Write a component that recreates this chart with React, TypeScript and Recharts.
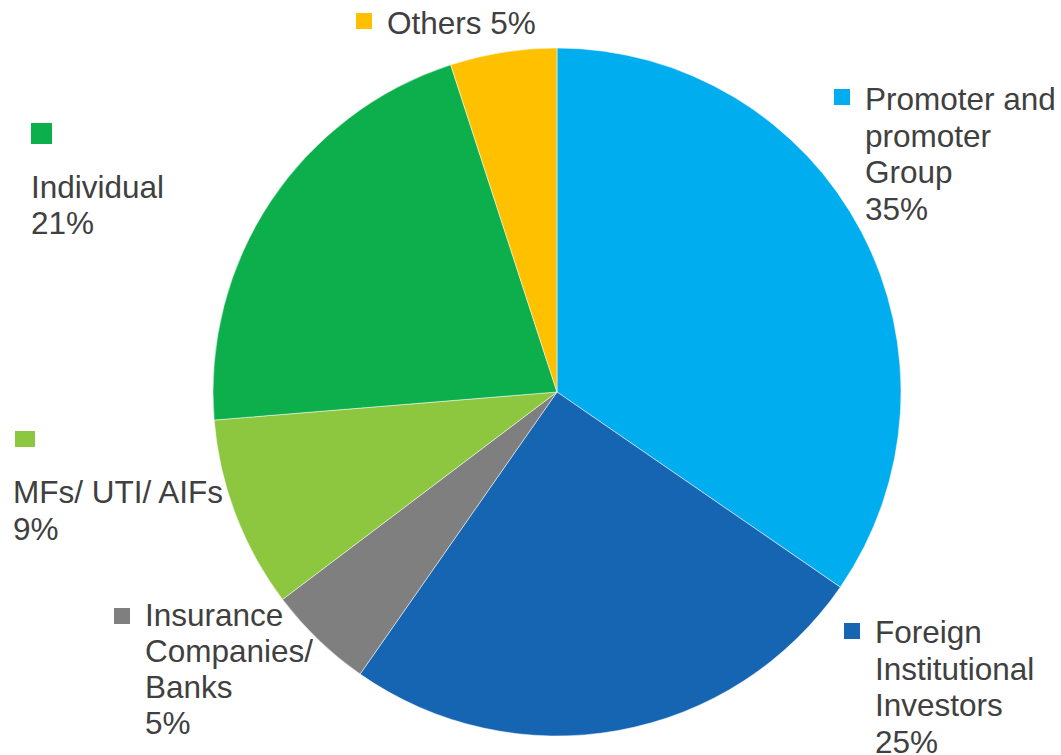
import React from "react";
import { PieChart, Pie, Cell } from "recharts";

const categories = [
  "Promoter and promoter Group",
  "Foreign Institutional Investors",
  "Insurance Companies/ Banks",
  "MFs/ UTI/ AIFs",
  "Individual",
  "Others",
];

// shareholding %, read from the slice edges
const shares = [34.6, 25.1, 5.0, 9.0, 21.3, 5.0];

// label name lines as they wrap in the original
const nameLines = [
  ["Promoter and", "promoter", "Group"],
  ["Foreign", "Institutional", "Investors"],
  ["Insurance", "Companies/", "Banks"],
  ["MFs/ UTI/ AIFs"],
  ["Individual"],
  ["Others"],
];

const colors = ["#00AEEF", "#1565B3", "#7F7F7F", "#8DC63F", "#0DAF4C", "#FFC000"];

const data = categories.map((name, i) => ({ name, value: shares[i] }));

// label layout: key square (x, y, w, h), text x, first baseline, line gap, pct inline
const labelLayout = [
  { kx: 834, ky: 89, kw: 16, kh: 16, tx: 865, ty: 110, gap: 36.5, inline: false },
  { kx: 844, ky: 623, kw: 16, kh: 16, tx: 875, ty: 643, gap: 36.5, inline: false },
  { kx: 114, ky: 608, kw: 16, kh: 16, tx: 145, ty: 626, gap: 36, inline: false },
  { kx: 15, ky: 431, kw: 20, kh: 16, tx: 13, ty: 503, gap: 37, inline: false },
  { kx: 31, ky: 123, kw: 21, kh: 21, tx: 31, ty: 198, gap: 36, inline: false },
  { kx: 356, ky: 13, kw: 16, kh: 16, tx: 387, ty: 34, gap: 36, inline: true },
];

const renderLabel = (props: any) => {
  const i = props.index;
  const l = labelLayout[i];
  const pct = `${Math.round(shares[i])}%`;
  const lines = l.inline
    ? [`${nameLines[i].join(" ")} ${pct}`]
    : [...nameLines[i], pct];
  return (
    <g key={`lbl-${i}`}>
      <rect x={l.kx} y={l.ky} width={l.kw} height={l.kh} fill={colors[i]} />
      <text
        x={l.tx}
        y={l.ty}
        fill="#404040"
        fontSize={31.5}
        fontFamily="'Liberation Sans', Arial, sans-serif"
        textAnchor="start"
      >
        {lines.map((line, j) => (
          <tspan key={j} x={l.tx} y={l.ty + j * l.gap}>
            {line}
          </tspan>
        ))}
      </text>
    </g>
  );
};

export default function App() {
  return (
    <div style={{ position: "absolute", left: 0, top: 0, background: "#fff" }}>
      <PieChart width={1061} height={755} margin={{ top: 0, right: 0, bottom: 0, left: 0 }}>
        <Pie
          data={data}
          dataKey="value"
          nameKey="name"
          cx={557}
          cy={392}
          outerRadius={344}
          startAngle={90}
          endAngle={-270}
          stroke="#ffffff"
          strokeWidth={0.5}
          label={renderLabel}
          labelLine={false}
          isAnimationActive={false}
        >
          {data.map((d, i) => (
            <Cell key={d.name} fill={colors[i]} />
          ))}
        </Pie>
      </PieChart>
    </div>
  );
}
